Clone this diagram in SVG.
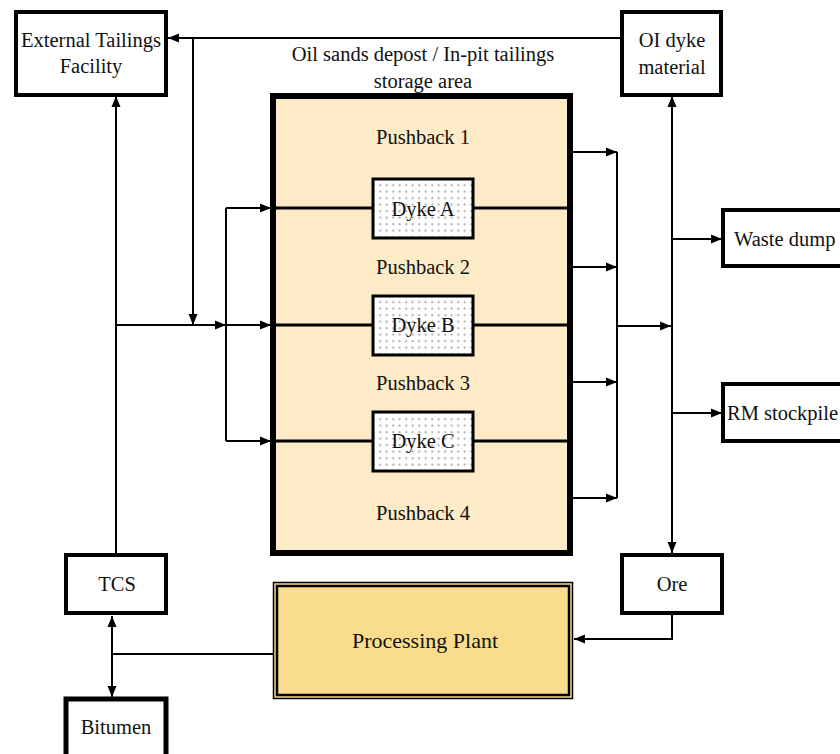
<svg xmlns="http://www.w3.org/2000/svg" width="840" height="754" viewBox="0 0 840 754">
<defs>
<marker id="ah" markerUnits="userSpaceOnUse" markerWidth="12" markerHeight="10" refX="11" refY="5" orient="auto">
<path d="M0,0.5 L11,5 L0,9.5 z" fill="#000"/>
</marker>
<pattern id="dots" width="6.5" height="6.5" patternUnits="userSpaceOnUse">
<rect width="6.5" height="6.5" fill="#fff"/>
<circle cx="3.2" cy="3.2" r="1" fill="#999"/>
</pattern>
<style>
.t{font-family:'Liberation Serif','DejaVu Serif',serif;font-size:20.5px;fill:#111;text-anchor:middle;dominant-baseline:central}
.box{fill:#fff;stroke:#000;stroke-width:4}
.c{fill:none;stroke:#000;stroke-width:2}
.d{fill:url(#dots);stroke:#000;stroke-width:3}
.div{stroke:#000;stroke-width:3}
</style>
</defs>
<rect width="840" height="754" fill="#fff"/>

<g id="main">
<rect x="273" y="96" width="297" height="457" fill="#fcebc6" stroke="#000" stroke-width="6"/>
<line class="div" x1="273" y1="208" x2="570" y2="208"/>
<line class="div" x1="273" y1="325" x2="570" y2="325"/>
<line class="div" x1="273" y1="441" x2="570" y2="441"/>
<text class="t" x="423" y="54">Oil sands depost / In-pit tailings</text>
<text class="t" x="423" y="81">storage area</text>
<text class="t" x="423" y="137">Pushback 1</text>
<text class="t" x="423" y="267">Pushback 2</text>
<text class="t" x="423" y="383">Pushback 3</text>
<text class="t" x="423" y="513">Pushback 4</text>
</g>
<g id="dykeA"><rect class="d" x="373" y="179" width="100" height="59"/><text class="t" x="423" y="209">Dyke A</text></g>
<g id="dykeB"><rect class="d" x="373" y="296" width="100" height="59"/><text class="t" x="423" y="325">Dyke B</text></g>
<g id="dykeC"><rect class="d" x="373" y="412" width="100" height="59"/><text class="t" x="423" y="441">Dyke C</text></g>

<g id="etf"><rect class="box" x="16" y="12" width="150" height="83"/><text class="t" x="91" y="40">External Tailings</text><text class="t" x="91" y="66">Facility</text></g>
<g id="oidyke"><rect class="box" x="622" y="12" width="99" height="83"/><text class="t" x="672" y="40">OI dyke</text><text class="t" x="672" y="67">material</text></g>
<g id="waste"><rect class="box" x="723" y="210" width="130" height="56"/><text class="t" x="734" y="239" style="text-anchor:start">Waste dump</text></g>
<g id="rm"><rect class="box" x="723" y="384" width="130" height="57"/><text class="t" x="727" y="413" style="text-anchor:start">RM stockpile</text></g>
<g id="tcs"><rect class="box" x="66" y="555" width="100" height="58"/><text class="t" x="117" y="584">TCS</text></g>
<g id="ore"><rect class="box" x="622" y="555" width="100" height="58"/><text class="t" x="672" y="584">Ore</text></g>
<g id="bitumen"><rect x="66" y="699" width="100" height="70" fill="#fff" stroke="#000" stroke-width="5"/><text class="t" x="116" y="727">Bitumen</text></g>
<g id="plant">
<rect x="273.5" y="582.5" width="299" height="116" fill="#f9dd8c" stroke="#000" stroke-width="1.5"/>
<rect x="277" y="586" width="292" height="109" fill="none" stroke="#000" stroke-width="2.5"/>
<text class="t" x="425" y="640" style="font-size:22px">Processing Plant</text>
</g>

<g id="connectors">
<path class="c" d="M620,38 H168" marker-end="url(#ah)"/>
<path class="c" d="M193,38 V325" marker-end="url(#ah)"/>
<path class="c" d="M116,553 V96" marker-end="url(#ah)"/>
<path class="c" d="M116,325 H226" marker-end="url(#ah)"/>
<path class="c" d="M226,325 H271" marker-end="url(#ah)"/>
<path class="c" d="M226,208 V441"/>
<path class="c" d="M226,208 H271" marker-end="url(#ah)"/>
<path class="c" d="M226,441 H271" marker-end="url(#ah)"/>
<path class="c" d="M573,152 H617" marker-end="url(#ah)"/>
<path class="c" d="M573,267 H617" marker-end="url(#ah)"/>
<path class="c" d="M573,382 H617" marker-end="url(#ah)"/>
<path class="c" d="M573,498 H617" marker-end="url(#ah)"/>
<path class="c" d="M617,152 V498"/>
<path class="c" d="M617,326 H671" marker-end="url(#ah)"/>
<path class="c" d="M672,326 V96" marker-end="url(#ah)"/>
<path class="c" d="M672,326 V553" marker-end="url(#ah)"/>
<path class="c" d="M672,239 H722" marker-end="url(#ah)"/>
<path class="c" d="M672,413 H722" marker-end="url(#ah)"/>
<path class="c" d="M672,613 V639 H574" marker-end="url(#ah)"/>
<path class="c" d="M273,654 H112"/>
<path class="c" d="M112,654 V616" marker-end="url(#ah)"/>
<path class="c" d="M112,654 V697" marker-end="url(#ah)"/>
</g>
</svg>
